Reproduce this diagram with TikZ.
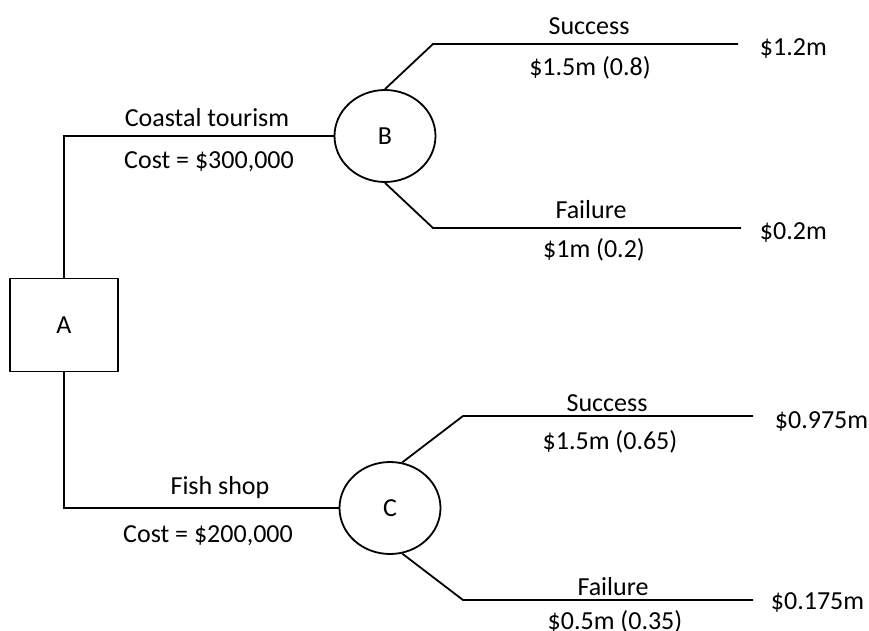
\documentclass[tikz,border=0pt]{standalone}
\usepackage{fontspec}
\setmainfont{Carlito}
\usetikzlibrary{shapes.geometric}
\begin{document}
\begin{tikzpicture}[x=1pt,y=-1pt,line width=1.8pt,
  lbl/.style={font=\fontsize{26}{30}\selectfont,inner sep=0pt},
  chance/.style={ellipse,draw,minimum width=101pt,minimum height=92pt,inner sep=0pt,font=\fontsize{26}{30}\selectfont},
  decision/.style={rectangle,draw,minimum width=108pt,minimum height=93pt,inner sep=0pt,font=\fontsize{26}{30}\selectfont},
  branch/.style={draw,line width=1.8pt}]
\useasboundingbox (0,0) rectangle (869,631);
% nodes
\node[decision] (A) at (64,325) {A};
\node[chance] (B) at (385,136) {B};
\node[chance] (C) at (390,508) {C};
% coordinates for branch ends
\coordinate (bsk) at (433,44);
\coordinate (bse) at (738,44);
\coordinate (bfk) at (433,228);
\coordinate (bfe) at (741,228);
\coordinate (csk) at (463,416);
\coordinate (cse) at (753,416);
\coordinate (cfk) at (463,600);
\coordinate (cfe) at (753,600);
% connectors
\draw[branch] (A.north) |- (B.west);
\draw[branch] (A.south) |- (C.west);
\draw[branch] (B.north) -- (bsk) -- (bse);
\draw[branch] (B.south) -- (bfk) -- (bfe);
\draw[branch] (C.75) -- (csk) -- (cse);
\draw[branch] (C.-75) -- (cfk) -- (cfe);
% labels
\node[lbl] (l1) at (207,118) {Coastal tourism};
\node[lbl] (l2) at (209,162) {Cost = \$300,000};
\node[lbl] (l3) at (220,488) {Fish shop};
\node[lbl] (l4) at (208,536) {Cost = \$200,000};
\node[lbl] (l5) at (589,26) {Success};
\node[lbl] (l6) at (590,68) {\$1.5m (0.8)};
\node[lbl] (l7) at (591,210) {Failure};
\node[lbl] (l8) at (594,250) {\$1m (0.2)};
\node[lbl] (l9) at (607,403) {Success};
\node[lbl] (l10) at (610,442) {\$1.5m (0.65)};
\node[lbl] (l11) at (613,587) {Failure};
\node[lbl] (l12) at (615,622) {\$0.5m (0.35)};
% payoffs
\node[lbl,anchor=west] (v1) at (759,49) {\$1.2m};
\node[lbl,anchor=west] (v2) at (759,233) {\$0.2m};
\node[lbl,anchor=west] (v3) at (774,422) {\$0.975m};
\node[lbl,anchor=west] (v4) at (770,603) {\$0.175m};
\end{tikzpicture}
\end{document}
